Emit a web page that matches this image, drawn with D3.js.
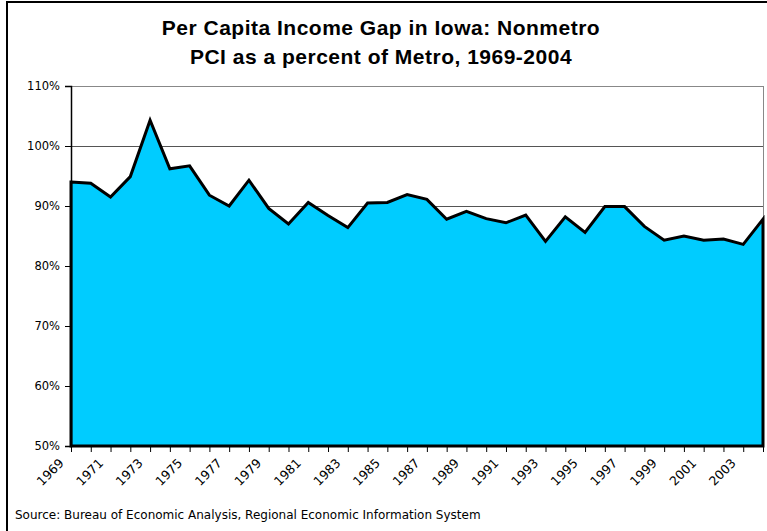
<!DOCTYPE html>
<html>
<head>
<meta charset="utf-8">
<script src="https://cdn.jsdelivr.net/npm/d3@7"></script>
<style>
  body { margin: 0; background: #fff; }
  svg { display: block; }
</style>
</head>
<body>
<svg id="chart" width="767" height="531"></svg>
<script>
// Nonmetro PCI as a percent of metro PCI, Iowa
const years = d3.range(1969, 2005);
const pciGap = [
  94.0, 93.8, 91.5, 94.9, 104.3, 96.2, 96.7, 91.8, 90.0, 94.3,
  89.6, 87.0, 90.6, 88.4, 86.4, 90.5, 90.6, 91.9, 91.1, 87.8,
  89.1, 87.9, 87.2, 88.5, 84.1, 88.2, 85.6, 89.9, 89.9, 86.6,
  84.3, 85.0, 84.3, 84.5, 83.6, 87.8
];
const yTicks = [50, 60, 70, 80, 90, 100, 110];
const titleLines = [
  "Per Capita Income Gap in Iowa: Nonmetro",
  "PCI as a percent of Metro, 1969-2004"
];
const sourceNote = "Source: Bureau of Economic Analysis, Regional Economic Information System";

const svg = d3.select("#chart");
const plot = { left: 71, right: 763, top: 86, bottom: 446 };
const labelFont = "'DejaVu Sans', Verdana, sans-serif";

// outer chart frame (runs off the right/bottom edge)
svg.append("rect")
  .attr("x", 7).attr("y", 2)
  .attr("width", 820).attr("height", 600)
  .attr("fill", "#fff")
  .attr("stroke", "#000")
  .attr("stroke-width", 2);

const x = d3.scalePoint()
  .domain(years)
  .range([plot.left, plot.right]);

const y = d3.scaleLinear()
  .domain([50, 110])
  .range([plot.bottom, plot.top]);

// gridlines
svg.append("g")
  .selectAll("line")
  .data(yTicks.filter(d => d > 50))
  .join("line")
  .attr("x1", plot.left).attr("x2", plot.right)
  .attr("y1", d => y(d) + 0.5).attr("y2", d => y(d) + 0.5)
  .attr("stroke", d => d === 110 ? "#888" : "#555")
  .attr("stroke-width", 1);

// right border of plot area
svg.append("line")
  .attr("x1", plot.right + 0.5).attr("x2", plot.right + 0.5)
  .attr("y1", plot.top).attr("y2", plot.bottom)
  .attr("stroke", "#888");

// the area
const area = d3.area()
  .x((d, i) => x(years[i]))
  .y0(y(50))
  .y1(d => y(d));

svg.append("path")
  .datum(pciGap)
  .attr("d", area)
  .attr("fill", "#00CCFF")
  .attr("stroke", "#000")
  .attr("stroke-width", 3)
  .attr("stroke-linejoin", "miter");

// y axis
const yAxis = svg.append("g")
  .attr("transform", `translate(${plot.left},0)`)
  .call(d3.axisLeft(y).tickValues(yTicks).tickSize(6).tickPadding(5)
    .tickFormat(d => d + "%"));
yAxis.select(".domain").attr("stroke", "#000").attr("stroke-width", 1.5);
yAxis.selectAll(".tick line").attr("stroke", "#000");
yAxis.selectAll("text")
  .attr("font-family", labelFont)
  .attr("font-size", 11.5)
  .attr("fill", "#000");

// x axis
const xAxis = svg.append("g")
  .attr("transform", `translate(0,${plot.bottom})`)
  .call(d3.axisBottom(x).tickSize(6)
    .tickFormat(d => (d - 1969) % 2 === 0 ? d : ""));
xAxis.select(".domain").remove();
xAxis.selectAll(".tick line").attr("stroke", "#000");
xAxis.selectAll("text")
  .attr("font-family", labelFont)
  .attr("font-size", 12.5)
  .attr("fill", "#000")
  .attr("text-anchor", "end")
  .attr("transform", "translate(-7,18) rotate(-45)")
  .attr("x", 0).attr("y", 0)
  .attr("dy", "0")
  .attr("dx", "0");

// title
svg.append("text")
  .attr("x", 381)
  .attr("text-anchor", "middle")
  .attr("font-family", "'Liberation Sans', Arial, sans-serif")
  .attr("font-weight", "bold")
  .attr("font-size", 21)
  .attr("letter-spacing", 0.5)
  .attr("fill", "#000")
  .selectAll("tspan")
  .data(titleLines)
  .join("tspan")
  .attr("x", 381)
  .attr("y", (d, i) => 35 + i * 29)
  .text(d => d);

// source note
svg.append("text")
  .attr("x", 15).attr("y", 519)
  .attr("font-family", labelFont)
  .attr("font-size", 12)
  .attr("fill", "#000")
  .text(sourceNote);
</script>
</body>
</html>
